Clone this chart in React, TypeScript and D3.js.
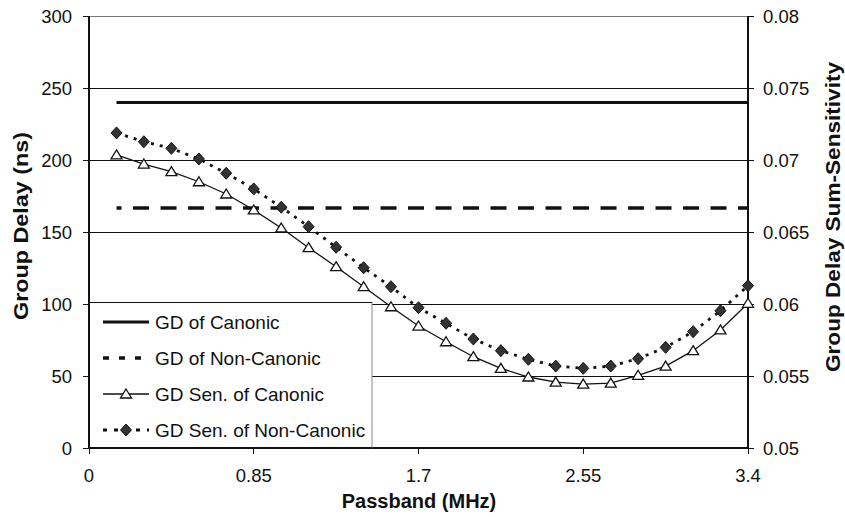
import React from "react";
import * as d3 from "d3";

const passband = [0.142, 0.283, 0.425, 0.567, 0.708, 0.85, 0.992, 1.133, 1.275, 1.417, 1.558, 1.7, 1.842, 1.983, 2.125, 2.267, 2.408, 2.55, 2.692, 2.833, 2.975, 3.117, 3.258, 3.4];
const gdCanonic = [240, 240, 240, 240, 240, 240, 240, 240, 240, 240, 240, 240, 240, 240, 240, 240, 240, 240, 240, 240, 240, 240, 240, 240];
const gdNonCanonic = [166.7, 166.7, 166.7, 166.7, 166.7, 166.7, 166.7, 166.7, 166.7, 166.7, 166.7, 166.7, 166.7, 166.7, 166.7, 166.7, 166.7, 166.7, 166.7, 166.7, 166.7, 166.7, 166.7, 166.7];
const senCanonic = [0.07035, 0.06972, 0.06919, 0.06849, 0.06764, 0.06653, 0.06528, 0.06391, 0.06259, 0.0612, 0.05981, 0.05847, 0.05738, 0.05634, 0.05553, 0.05493, 0.05458, 0.05444, 0.05451, 0.05505, 0.05569, 0.05676, 0.0582, 0.06005];
const senNonCanonic = [0.07188, 0.07127, 0.07081, 0.07007, 0.06908, 0.06799, 0.06672, 0.06537, 0.06394, 0.06252, 0.0612, 0.05974, 0.05866, 0.05757, 0.05676, 0.05616, 0.05569, 0.05553, 0.05569, 0.0562, 0.05699, 0.05808, 0.05953, 0.06127];

const leftTicks = [0, 50, 100, 150, 200, 250, 300];
const rightTicks = [0.05, 0.055, 0.06, 0.065, 0.07, 0.075, 0.08];
const rightTickLabels = ["0.05", "0.055", "0.06", "0.065", "0.07", "0.075", "0.08"];
const xTicks = [0, 0.85, 1.7, 2.55, 3.4];
const xTickLabels = ["0", "0.85", "1.7", "2.55", "3.4"];
const legendLabels = ["GD of Canonic", "GD of Non-Canonic", "GD Sen. of Canonic", "GD Sen. of Non-Canonic"];

const FONT = "'Liberation Sans', Arial, Helvetica, sans-serif";

export default function App() {
  const W = 845, H = 517;
  const x = d3.scaleLinear().domain([0, 3.4]).range([89, 748]);
  const yL = d3.scaleLinear().domain([0, 300]).range([448, 16]);
  const yR = d3.scaleLinear().domain([0.05, 0.08]).range([448, 16]);
  const [x0, x1] = x.range();
  const [yb, yt] = yL.range();

  const lineL = d3.line<number>().x((_, i) => x(passband[i])).y((d) => yL(d));
  const lineR = d3.line<number>().x((_, i) => x(passband[i])).y((d) => yR(d));

  const tri = (cx: number, cy: number) => `M${cx},${cy - 5} L${cx + 5.5},${cy + 4} L${cx - 5.5},${cy + 4} Z`;
  const dia = (cx: number, cy: number) => `M${cx},${cy - 6} L${cx + 5.5},${cy} L${cx},${cy + 6} L${cx - 5.5},${cy} Z`;

  const lgX0 = 103, lgX1 = 149, lgTx = 155;
  const lgY = [322, 358, 394, 430];

  return (
    <svg width={W} height={H} style={{ position: "absolute", left: 0, top: 0, background: "#fff" }} fontFamily={FONT}>
      <rect x={0} y={0} width={W} height={H} fill="#fff" />
      {/* top border */}
      <line x1={x0} x2={x1} y1={yt} y2={yt} stroke="#777" strokeWidth={1} shapeRendering="crispEdges" />
      {/* gridlines */}
      {leftTicks.filter((t) => t > 0 && t < 300).map((t) => (
        <line key={"g" + t} x1={x0} x2={x1} y1={yL(t)} y2={yL(t)} stroke="#111" strokeWidth={1} shapeRendering="crispEdges" />
      ))}
      {/* axes */}
      <line x1={x0} x2={x0} y1={yt} y2={yb} stroke="#111" strokeWidth={1.2} shapeRendering="crispEdges" />
      <line x1={x1} x2={x1} y1={yt} y2={yb} stroke="#111" strokeWidth={1.2} shapeRendering="crispEdges" />
      <line x1={x0} x2={x1} y1={yb} y2={yb} stroke="#111" strokeWidth={1.5} shapeRendering="crispEdges" />
      {leftTicks.map((t) => (
        <g key={"l" + t}>
          <line x1={x0 - 6} x2={x0} y1={yL(t)} y2={yL(t)} stroke="#111" strokeWidth={1} shapeRendering="crispEdges" />
          <text x={72} y={yL(t)} dy="0.36em" textAnchor="end" fontSize={18.5} fill="#111">{t}</text>
        </g>
      ))}
      {rightTicks.map((t, i) => (
        <g key={"r" + t}>
          <line x1={x1} x2={x1 + 6} y1={yR(t)} y2={yR(t)} stroke="#111" strokeWidth={1} shapeRendering="crispEdges" />
          <text x={763} y={yR(t)} dy="0.36em" textAnchor="start" fontSize={18.5} fill="#111">{rightTickLabels[i]}</text>
        </g>
      ))}
      {xTicks.map((t, i) => (
        <g key={"x" + t}>
          <line x1={x(t)} x2={x(t)} y1={yb} y2={yb + 6} stroke="#111" strokeWidth={1} shapeRendering="crispEdges" />
          <text x={x(t)} y={482} textAnchor="middle" fontSize={18.5} fill="#111">{xTickLabels[i]}</text>
        </g>
      ))}
      {/* titles */}
      <text x={419} y={508} textAnchor="middle" fontSize={20} fontWeight="bold" fill="#111">Passband (MHz)</text>
      <text transform={`translate(28,226) rotate(-90)`} textAnchor="middle" fontSize={20} fontWeight="bold" fill="#111" textLength={188} lengthAdjust="spacingAndGlyphs">Group Delay (ns)</text>
      <text transform={`translate(840,217) rotate(-90)`} textAnchor="middle" fontSize={19.5} fontWeight="bold" fill="#111" textLength={310} lengthAdjust="spacingAndGlyphs">Group Delay Sum-Sensitivity</text>

      {/* series */}
      <path d={lineL(gdCanonic) || ""} fill="none" stroke="#111" strokeWidth={3} />
      <path d={lineL(gdNonCanonic) || ""} fill="none" stroke="#111" strokeWidth={3.5} strokeDasharray="16 11.5" strokeDashoffset={11} />
      <path d={lineR(senCanonic) || ""} fill="none" stroke="#111" strokeWidth={1.3} />
      <path d={lineR(senNonCanonic) || ""} fill="none" stroke="#111" strokeWidth={2.8} strokeDasharray="3 6" />
      {senCanonic.map((v, i) => (
        <path key={"t" + i} d={tri(x(passband[i]), yR(v))} fill="#fff" stroke="#111" strokeWidth={1.3} />
      ))}
      {senNonCanonic.map((v, i) => (
        <path key={"d" + i} d={dia(x(passband[i]), yR(v))} fill="#333" stroke="#111" strokeWidth={1} />
      ))}

      {/* legend */}
      <rect x={x0} y={302.5} width={372 - x0} height={yb - 302.5} fill="#fff" stroke="#888" strokeWidth={1} />
      <line x1={x0} x2={x0} y1={302} y2={yb} stroke="#111" strokeWidth={1.2} shapeRendering="crispEdges" />
      <line x1={x0} x2={372} y1={yb} y2={yb} stroke="#111" strokeWidth={1.5} shapeRendering="crispEdges" />
      <line x1={x0} x2={372} y1={302.5} y2={302.5} stroke="#111" strokeWidth={1} shapeRendering="crispEdges" />
      <line x1={lgX0} x2={lgX1} y1={lgY[0]} y2={lgY[0]} stroke="#111" strokeWidth={3} />
      <line x1={lgX0} x2={lgX1} y1={lgY[1]} y2={lgY[1]} stroke="#111" strokeWidth={3.5} strokeDasharray="6 10" />
      <line x1={lgX0} x2={lgX1} y1={lgY[2]} y2={lgY[2]} stroke="#111" strokeWidth={1.3} />
      <path d={tri((lgX0 + lgX1) / 2, lgY[2])} fill="#fff" stroke="#111" strokeWidth={1.3} />
      <line x1={lgX0} x2={lgX1} y1={lgY[3]} y2={lgY[3]} stroke="#111" strokeWidth={2.8} strokeDasharray="4 7" />
      <path d={dia((lgX0 + lgX1) / 2, lgY[3])} fill="#333" stroke="#111" strokeWidth={1} />
      {legendLabels.map((l, i) => (
        <text key={l} x={lgTx} y={lgY[i]} dy="0.36em" fontSize={19} fill="#111">{l}</text>
      ))}
    </svg>
  );
}
